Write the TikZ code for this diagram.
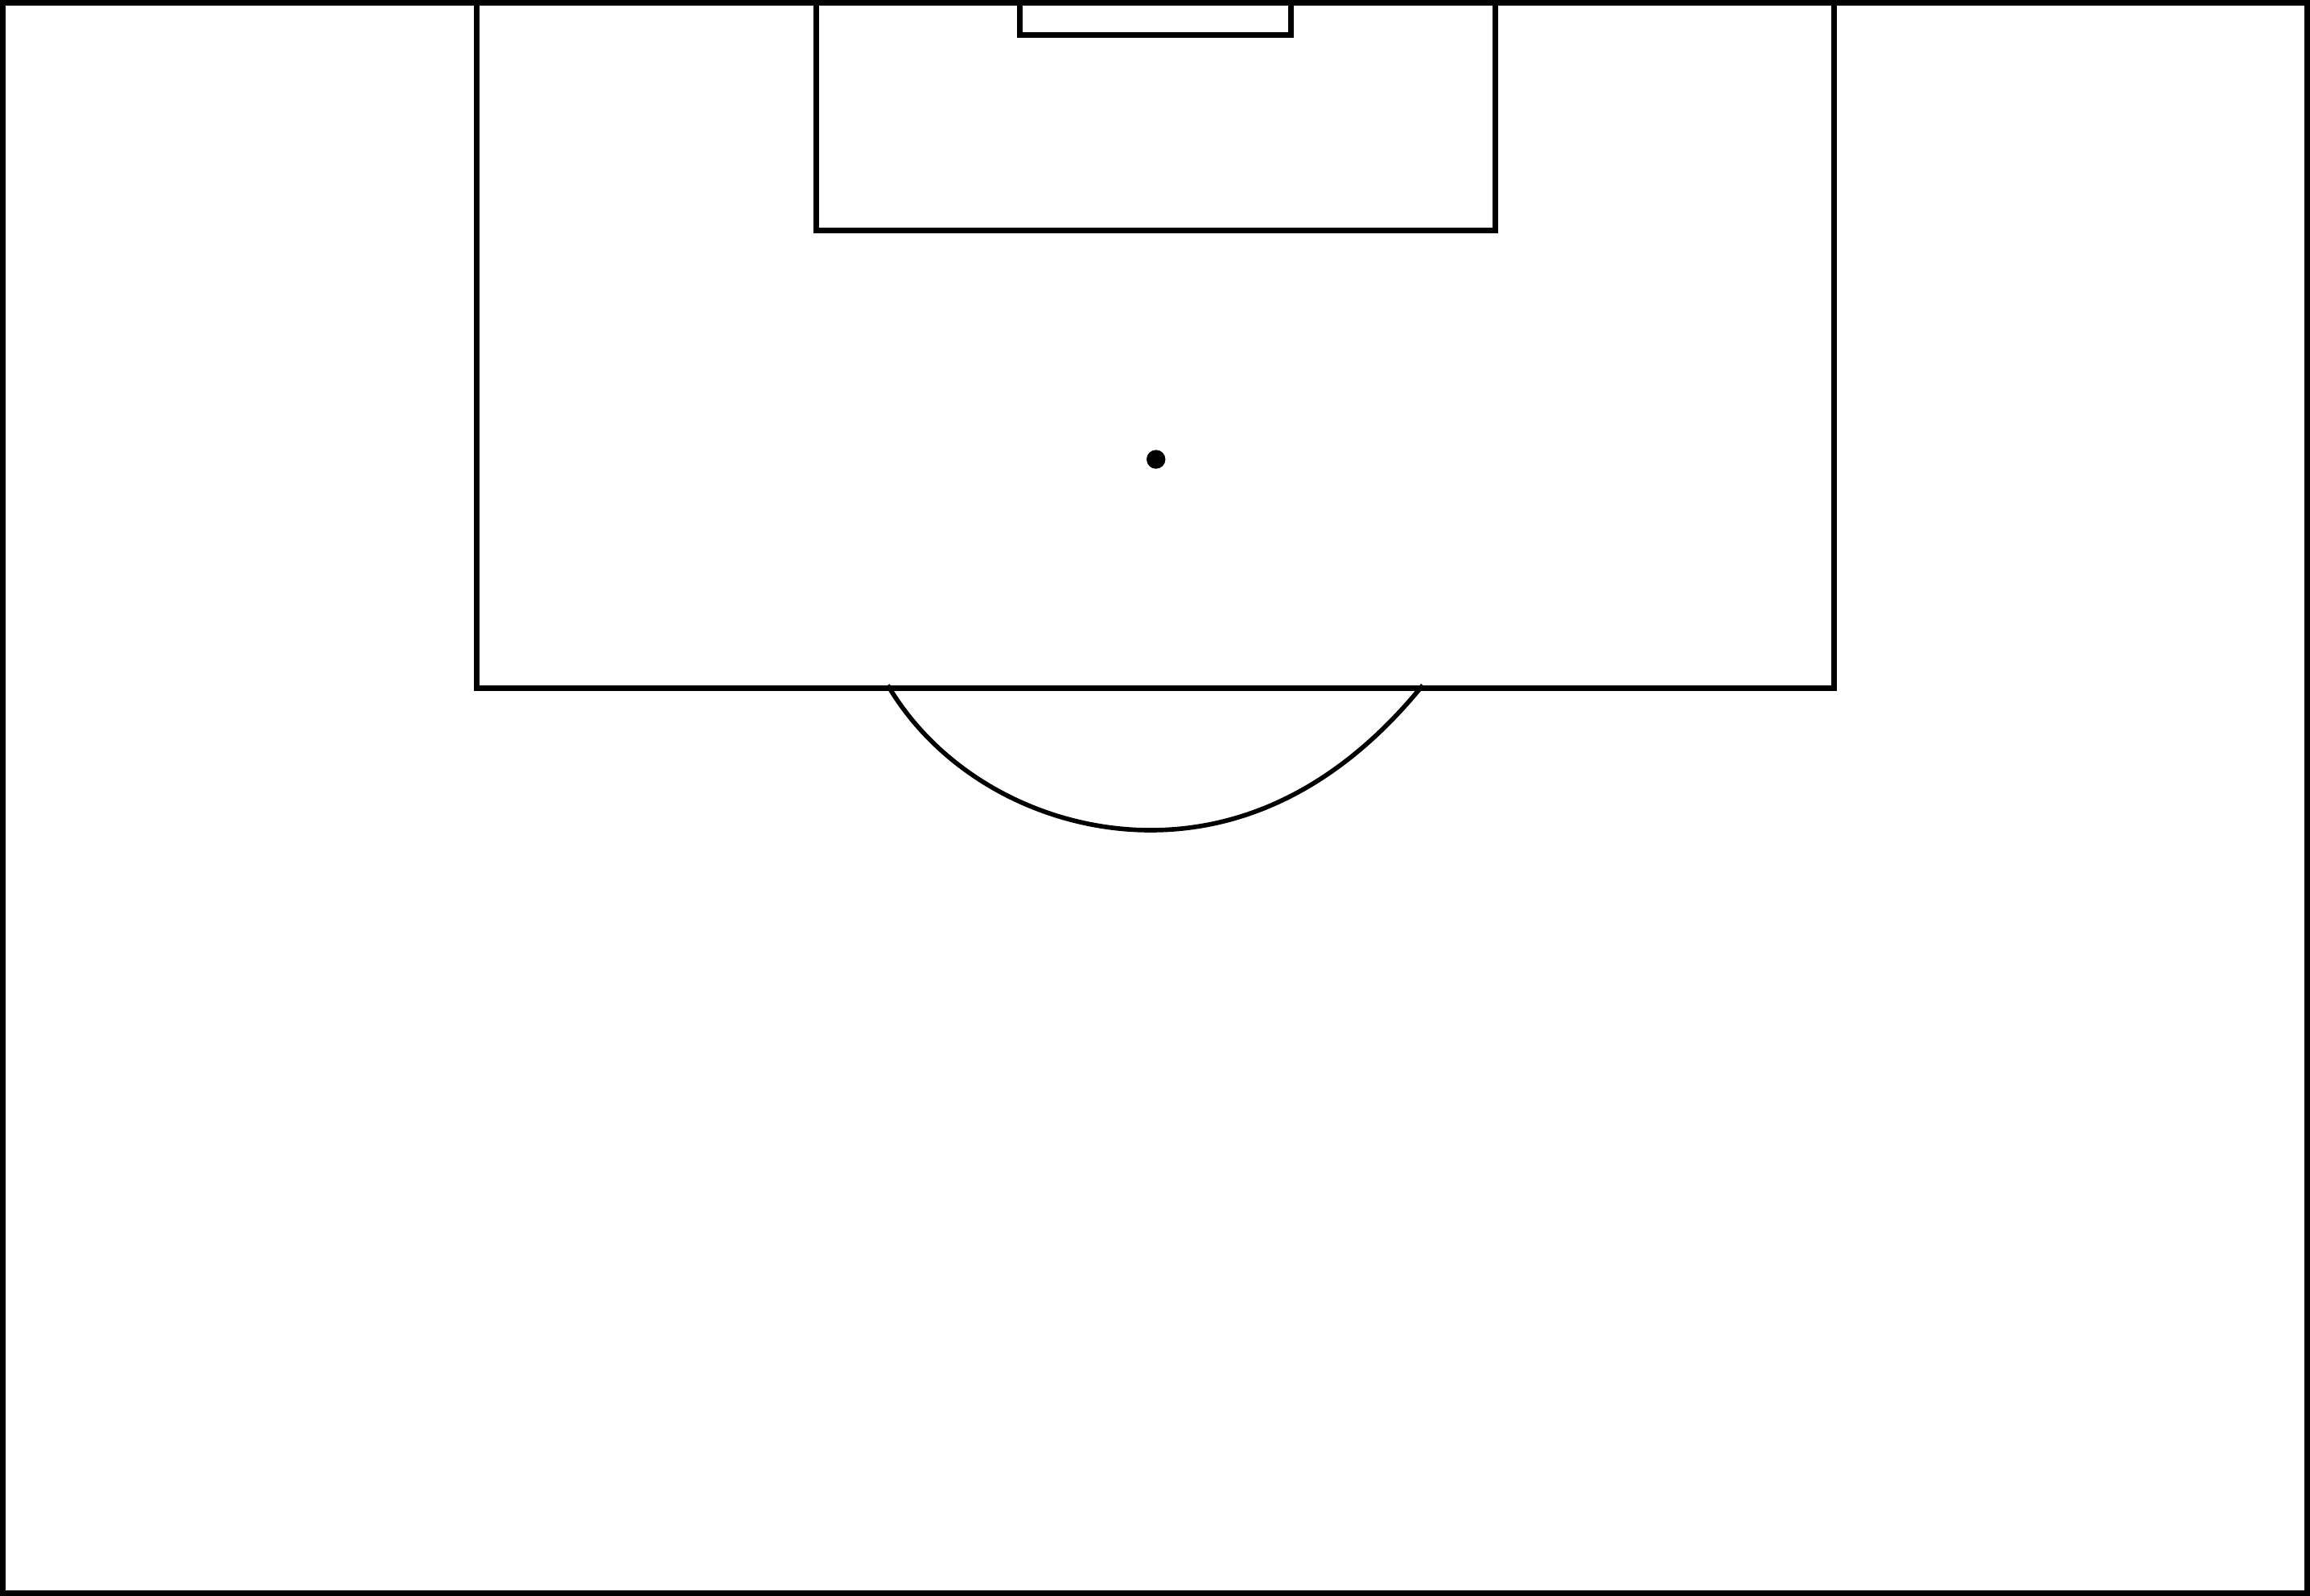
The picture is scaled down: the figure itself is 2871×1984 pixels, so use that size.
\documentclass[tikz,border=0pt]{standalone}
\usepackage{tikz}
\usetikzlibrary{calc}

\tikzset{
  pitchline/.style={line width=1.99pt},
  arcline/.style={line width=1.6pt}
}

\begin{document}
\begin{tikzpicture}[x=0.01cm,y=-0.01cm]
  \useasboundingbox (0,0) rectangle (2871,1984);
  % outer boundary of the half pitch
  \draw[pitchline] (3.5,3.5) rectangle (2867.5,1980.5);
  % penalty area, six-yard box, goal  (x left/right, y depth)
  \foreach \xl/\xr/\dp in {592.3/2279.3/855.7, 1014.3/1858.3/286.3, 1267.5/1604.3/43.3} {
    \draw[pitchline] (\xl,3.5) -- (\xl,\dp) -- (\xr,\dp) -- (\xr,3.5);
  }
  % penalty spot
  \fill (1436.7,571) circle (11.7);
  % penalty arc
  \draw[arcline] (1103.3,851.7) .. controls (1170,965) and (1300,1032) .. (1430,1032)
    .. controls (1540,1032) and (1660,985) .. (1768.3,851.7);
\end{tikzpicture}
\end{document}
